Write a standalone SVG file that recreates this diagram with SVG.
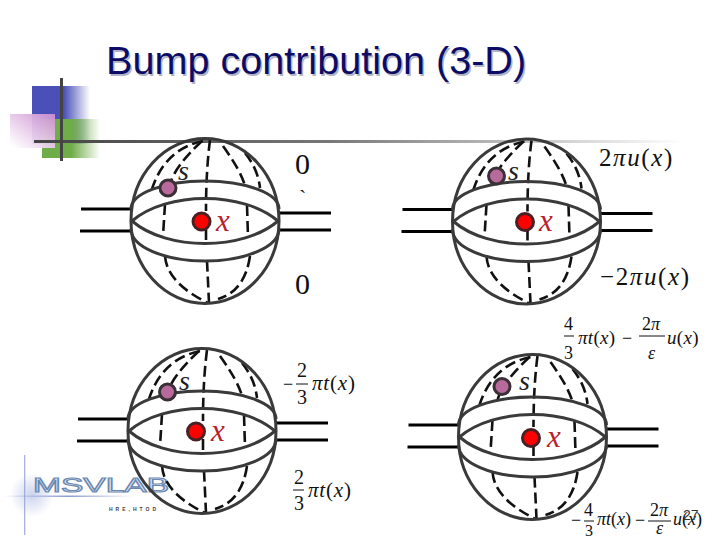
<svg xmlns="http://www.w3.org/2000/svg" width="720" height="540" viewBox="0 0 720 540">
<style>
.o{fill:none;stroke:#3a3a3a;stroke-width:3}
.d{fill:none;stroke:#111;stroke-width:2.6;stroke-dasharray:11 5}
.w{fill:none;stroke:#000;stroke-width:3}
.b{stroke:#111;stroke-width:1}
.m{font-family:"Liberation Serif",serif;fill:#111}
.i{font-style:italic}
.big{font-size:25px;letter-spacing:1.6px}
.f{font-size:21px;letter-spacing:.8px}
.g{font-size:18px}
.h{font-size:19px;letter-spacing:.3px}
.t{font-family:"Liberation Sans",sans-serif;font-size:39.6px}
.s{fill:#b86a9c;stroke:#3c3038;stroke-width:3}
.r{fill:#f00;stroke:#4a2024;stroke-width:3}
.lx{font-family:"Liberation Serif",serif;font-style:italic;font-size:31px;fill:#b8202c}
.ls{font-family:"Liberation Serif",serif;font-style:italic;font-size:28px;fill:#222}
</style>
<defs>
<linearGradient id="gb"><stop offset="0.55" stop-color="#4a50b8"/><stop offset="1" stop-color="#4a50b8" stop-opacity="0"/></linearGradient>
<linearGradient id="gg"><stop offset="0.5" stop-color="#6ead48"/><stop offset="1" stop-color="#6ead48" stop-opacity="0"/></linearGradient>
<linearGradient id="gp" x1="0" y1="1" x2="1" y2="0"><stop offset="0.05" stop-color="#fff"/><stop offset="1" stop-color="#cc8cd0"/></linearGradient>
<linearGradient id="gl"><stop offset="0" stop-color="#444"/><stop offset="0.45" stop-color="#777"/><stop offset="1" stop-color="#fff"/></linearGradient>
<linearGradient id="gv" x1="0" x2="1" y1="0" y2="0"><stop offset="0" stop-color="#8c9cd0"/><stop offset="1" stop-color="#8c9cd0" stop-opacity="0"/></linearGradient>
<linearGradient id="gh"><stop offset="0" stop-color="#8c9cd0" stop-opacity="0"/><stop offset="0.5" stop-color="#8c9cd0"/><stop offset="1" stop-color="#8c9cd0" stop-opacity="0"/></linearGradient>
<radialGradient id="gg2"><stop offset="0" stop-color="#8c9cd8" stop-opacity=".45"/><stop offset="1" stop-color="#8c9cd8" stop-opacity="0"/></radialGradient>
<g id="sphere">
<path class="w" d="M-124,-12H-74M-125,10H-74M74,-8H126M74,9H126"/>
<path class="d" d="M5,-81Q1,-50 1,-10M1,8V22M2,40Q3,60 4,82"/>
<path class="d" d="M-3,-80Q-30,-55 -35,-37M-40,-17L-42,15M-40,35Q-38,62 3,82"/>
<path class="d" d="M-2,-80Q-40,-72 -53,-32"/>
<path class="d" d="M18,-75Q36,-50 40,-35M42,-16L43,16M45,35Q40,70 13,78"/>
<path class="d" d="M40,-68Q53,-52 55,-33"/>
<ellipse class="o" rx="74" ry="82.5"/>
<path class="o" d="M-74,-12A74,28 0 0 1 74,-12M74,8A74,32 0 0 1 -74,8"/>
<path class="o" d="M-73,0C-38,-30 38,-30 73,0C38,30 -38,30 -73,0Z"/>
</g>
</defs>
<g id="decor">
<rect x="32" y="86" width="58" height="58" fill="url(#gb)"/>
<rect x="42" y="119" width="58" height="39" fill="url(#gg)"/>
<rect x="10" y="114" width="45" height="34" fill="url(#gp)" opacity=".95"/>
<rect x="34" y="140" width="650" height="3" fill="url(#gl)"/>
<rect x="60" y="78" width="3" height="83" fill="#444"/>
</g>
<g id="title"><text class="t" x="106" y="74" fill="#b4b4c4" transform="translate(1.5 1.5)">Bump contribution (3-D)</text><text class="t" x="106" y="74" fill="#0c0c66">Bump contribution (3-D)</text></g>
<g id="logo">
<circle cx="32" cy="495" r="22" fill="url(#gg2)"/>
<rect x="24" y="455" width="2" height="80" fill="url(#gv)"/>
<rect x="3" y="495.5" width="130" height="1.5" fill="url(#gh)"/>
<text x="33" y="492" font-family="Liberation Sans,sans-serif" font-size="21" textLength="136" lengthAdjust="spacingAndGlyphs" fill="#e4eaf6" stroke="#6a88b0" stroke-width="1.1">MSVLAB</text>
<text x="109" y="511" font-family="Liberation Sans,sans-serif" font-weight="bold" font-size="5" letter-spacing="3" fill="#444">HRE,HTOD</text>
</g>
<g id="node-1"><use href="#sphere" x="205" y="221"/><circle class="s" cx="168" cy="188" r="8"/><circle class="r" cx="201.5" cy="221.5" r="8.5"/><text class="ls" x="178" y="180">s</text><text class="lx" x="216" y="231">x</text></g>
<g id="node-2"><use href="#sphere" x="526.5" y="221.5"/><circle class="s" cx="496.5" cy="176" r="8"/><circle class="r" cx="525" cy="222" r="8.5"/><text class="ls" x="508" y="180">s</text><text class="lx" x="539" y="231">x</text></g>
<g id="node-3"><use href="#sphere" x="202" y="431"/><circle class="s" cx="167.5" cy="392" r="8"/><circle class="r" cx="196" cy="431.5" r="8.5"/><text class="ls" x="179" y="390">s</text><text class="lx" x="211" y="441">x</text></g>
<g id="node-4"><use href="#sphere" x="532.5" y="437"/><circle class="s" cx="502" cy="386.5" r="8"/><circle class="r" cx="531" cy="438" r="8.5"/><text class="ls" x="519" y="390">s</text><text class="lx" x="547" y="447">x</text></g>
<g id="labels">
<text class="m" x="295" y="174" font-size="30">0</text>
<text class="m" x="299" y="205" font-size="22">`</text>
<text class="m" x="295" y="294" font-size="30">0</text>
<text class="m big" x="599" y="166">2<tspan class="i">πu</tspan>(<tspan class="i">x</tspan>)</text>
<text class="m big" x="600" y="285">−2<tspan class="i">πu</tspan>(<tspan class="i">x</tspan>)</text>
<g>
<text class="m g" x="283" y="390">−</text><text class="m" font-size="20" x="297" y="377">2</text><path class="b" d="M296,384H308"/><text class="m" font-size="20" x="297" y="404">3</text>
<text class="m f" x="312" y="390"><tspan class="i">πt</tspan>(<tspan class="i">x</tspan>)</text>
</g>
<g>
<text class="m" font-size="20" x="294" y="484">2</text><path class="b" d="M293,490H304"/><text class="m" font-size="20" x="294" y="510">3</text>
<text class="m f" x="308" y="497"><tspan class="i">πt</tspan>(<tspan class="i">x</tspan>)</text>
</g>
<g>
<text class="m g" x="564" y="330">4</text><path class="b" d="M564,336H574"/><text class="m g" x="564" y="359">3</text>
<text class="m h" x="578" y="344"><tspan class="i">πt</tspan>(<tspan class="i">x</tspan>)</text>
<text class="m g" x="622" y="344">−</text>
<text class="m g" x="642" y="330">2<tspan class="i">π</tspan></text><path class="b" d="M639,336H665"/><text class="m g i" x="648" y="359">ε</text>
<text class="m h" x="667" y="344"><tspan class="i">u</tspan>(<tspan class="i">x</tspan>)</text>
</g>
<g>
<text class="m g" x="571" y="526">−</text><text class="m g" x="584" y="516">4</text><path class="b" d="M584,521H594"/><text class="m" font-size="16" x="585" y="536">3</text>
<text class="m" font-size="18" x="597" y="525"><tspan class="i">πt</tspan>(<tspan class="i">x</tspan>)</text>
<text class="m g" x="635" y="526">−</text>
<text class="m g" x="650" y="516">2<tspan class="i">π</tspan></text><path class="b" d="M648,521H671"/><text class="m g i" x="656" y="534">ε</text>
<text class="m" font-size="18" x="673" y="525"><tspan class="i">u</tspan>(<tspan class="i">x</tspan>)</text>
</g>
<text x="683" y="520" font-family="Liberation Sans,sans-serif" font-size="14" fill="#333">27</text>
</g>
</svg>
